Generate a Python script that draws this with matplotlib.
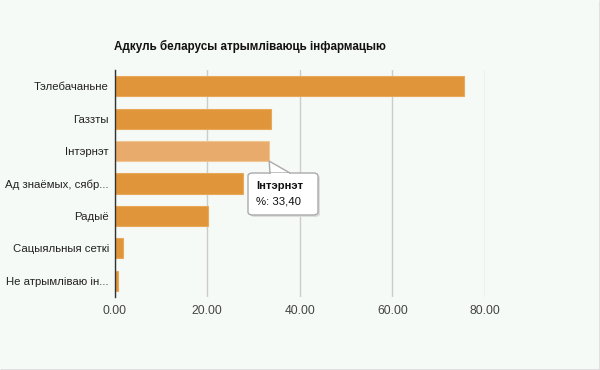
import matplotlib
matplotlib.use("Agg")
import matplotlib.pyplot as plt
from matplotlib.patches import FancyBboxPatch, Polygon

plt.rcParams['font.family'] = ['Liberation Sans', 'DejaVu Sans']

title = "Адкуль беларусы атрымліваюць інфармацыю"
categories = ["Тэлебачаньне", "Газзты", "Інтэрнэт", "Ад знаёмых, сябр...",
              "Радыё", "Сацыяльныя сеткі", "Не атрымліваю ін..."]
values = [75.5, 33.8, 33.4, 27.8, 20.2, 1.9, 0.8]
xticks = [0, 20, 40, 60, 80]
xticklabels = ["0.00", "20.00", "40.00", "60.00", "80.00"]
highlight = "Інтэрнэт"
tooltip_series = "%"
tooltip_value = "33,40"

bg = "#f6faf7"
fig = plt.figure(figsize=(6, 3.7), dpi=100, facecolor=bg)
ax = fig.add_axes([114.5/600, 1-297/370, (485-114.5)/600, (297-70)/370])
ax.set_facecolor(bg)

n = len(categories)
ys = list(range(n))
colors = ["#e8ab6b" if c == highlight else "#e0953a" for c in categories]
edges = ["#f0c493" if c == highlight else "#eaa85a" for c in categories]
ax.barh(ys, values, height=0.62, color=colors, edgecolor=edges, linewidth=0.8, zorder=3)
ax.set_ylim(n - 0.5, -0.5)
ax.set_xlim(0, 80)

ax.set_xticks(xticks)
ax.set_xticklabels(xticklabels, fontsize=8.7, color="#444444")
ax.set_yticks(ys)
ax.set_yticklabels(categories, fontsize=8.2, color="#222222")
ax.tick_params(axis='y', length=0, pad=4)
ax.tick_params(axis='x', length=0, pad=6)
ax.grid(axis='x', color="#cccccc", linewidth=1, zorder=0)
for s in ["top", "right", "bottom"]:
    ax.spines[s].set_visible(False)
ax.spines["left"].set_color("#333333")
ax.spines["left"].set_linewidth(1)
ax.spines["left"].set_zorder(4)

fig.text(114.5/600, 1-46/370, title, fontsize=8.4, fontweight='bold', color="#111111",
         va='center', ha='left')

# tooltip
hi = categories.index(highlight)
tx0, ty0 = 248/600, 1-215/370
tw, th = 70/600, 42/370
shadow = FancyBboxPatch((tx0 + 2/600, ty0 - 2/370), tw, th, boxstyle="round,pad=0,rounding_size=0.008",
                        transform=fig.transFigure, facecolor="#dddddd", edgecolor="none", zorder=9)
fig.patches.append(shadow)
box = FancyBboxPatch((tx0, ty0), tw, th, boxstyle="round,pad=0,rounding_size=0.008",
                     transform=fig.transFigure, facecolor="white", edgecolor="#aaaaaa",
                     linewidth=1, zorder=10)
fig.patches.append(box)
# pointer from bar end
bx, by = fig.transFigure.inverted().transform(ax.transData.transform((values[hi], hi + 0.31)))
ptr = Polygon([(bx, by), (270/600, 1-173/370), (290/600, 1-173/370)], closed=True,
              transform=fig.transFigure, facecolor="white", edgecolor="#aaaaaa",
              linewidth=1, zorder=11)
fig.patches.append(ptr)
cover = Polygon([(271/600, 1-172.5/370), (289/600, 1-172.5/370), (289/600, 1-175/370), (271/600, 1-175/370)],
                closed=True, transform=fig.transFigure, facecolor="white", edgecolor="none", zorder=12)
fig.patches.append(cover)
fig.text(256/600, 1-186/370, highlight, fontsize=8.2, fontweight='bold', color="#111111",
         va='center', ha='left', zorder=13)
fig.text(256/600, 1-202/370, f"{tooltip_series}: {tooltip_value}", fontsize=8.2, color="#111111",
         va='center', ha='left', zorder=13)

# outer border right/bottom
fig.patches.append(Polygon([(1, 0), (1, 1)], closed=False, transform=fig.transFigure,
                           edgecolor="#dddddd", linewidth=2, fill=False))
fig.patches.append(Polygon([(0, 0), (1, 0)], closed=False, transform=fig.transFigure,
                           edgecolor="#dddddd", linewidth=2, fill=False))

fig.savefig("out.png", dpi=100, facecolor=bg)
